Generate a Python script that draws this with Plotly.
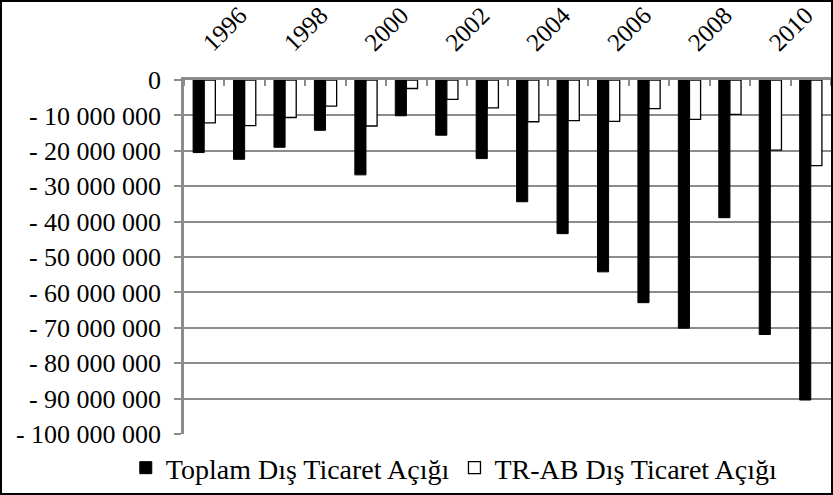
import plotly.graph_objects as go

years = list(range(1996, 2012))
toplam = [-20.5e6, -22.4e6, -19.0e6, -14.2e6, -26.8e6, -10.1e6, -15.6e6, -22.2e6,
          -34.4e6, -43.4e6, -54.2e6, -62.9e6, -70.1e6, -38.9e6, -71.9e6, -90.4e6]
trab = [-12.1e6, -12.9e6, -10.6e6, -7.4e6, -13.0e6, -2.4e6, -5.5e6, -7.9e6,
        -11.8e6, -11.5e6, -11.7e6, -8.1e6, -11.1e6, -9.7e6, -19.8e6, -24.2e6]
label_years = list(range(1996, 2011, 2))
y_ticks = [0, -10e6, -20e6, -30e6, -40e6, -50e6, -60e6, -70e6, -80e6, -90e6, -100e6]
y_ticktext = ["0", "- 10 000 000", "- 20 000 000", "- 30 000 000", "- 40 000 000",
              "- 50 000 000", "- 60 000 000", "- 70 000 000", "- 80 000 000",
              "- 90 000 000", "- 100 000 000"]

FONT = "Liberation Serif"
GREY = "#8c8c8c"
L, R, T, B = 184, 2, 80, 61
W, H = 833, 495
PW, PH = W - L - R, H - T - B

fig = go.Figure()
fig.add_trace(go.Bar(x=years, y=toplam, name="Toplam Dış Ticaret Açığı",
                     marker=dict(color="#000000", line=dict(color="#000000", width=1))))
fig.add_trace(go.Bar(x=years, y=trab, name="TR-AB Dış Ticaret Açığı",
                     marker=dict(color="#ffffff", line=dict(color="#000000", width=1.3))))

fig.update_layout(
    width=W, height=H,
    margin=dict(l=L, r=R, t=T, b=B, autoexpand=False),
    paper_bgcolor="white", plot_bgcolor="white",
    barmode="group", bargap=0.45, bargroupgap=0,
    font=dict(family=FONT, size=24, color="black"),
    showlegend=True,
    legend=dict(orientation="h", x=-0.09, xanchor="left", y=-0.096, yanchor="middle",
                font=dict(family=FONT, size=28), itemwidth=30, bgcolor="rgba(0,0,0,0)"),
)
fig.add_shape(type="rect", xref="paper", yref="paper",
              x0=-(L - 1) / PW, x1=(PW + R - 1) / PW, y0=-(B - 1) / PH, y1=(PH + T - 1) / PH,
              line=dict(color="black", width=2), layer="above")

fig.update_xaxes(
    side="top", range=[1995.5, 2011.5], automargin=False,
    tickmode="array", tickvals=label_years, ticktext=[str(y) for y in label_years],
    tickangle=-45, ticks="", showgrid=False, ticklabelstandoff=11,
    showline=True, linecolor=GREY, linewidth=2.5,
    minor=dict(tick0=1995.5, dtick=1, ticks="inside", ticklen=6, tickcolor=GREY,
               tickwidth=2, showgrid=False),
    tickfont=dict(family=FONT, size=25),
)
fig.update_yaxes(
    range=[-100e6, 0], tickmode="array", tickvals=y_ticks, ticktext=y_ticktext, automargin=False,
    ticks="outside", ticklen=7, tickcolor=GREY, tickwidth=2, ticklabelstandoff=8,
    showgrid=True, gridcolor=GREY, gridwidth=1.5,
    showline=True, linecolor=GREY, linewidth=2.5, zeroline=False,
    tickfont=dict(family=FONT, size=26),
)

fig.write_html("out.html", config={"displayModeBar": False},
               post_script="document.body.style.margin='0';document.body.style.overflow='hidden';")
